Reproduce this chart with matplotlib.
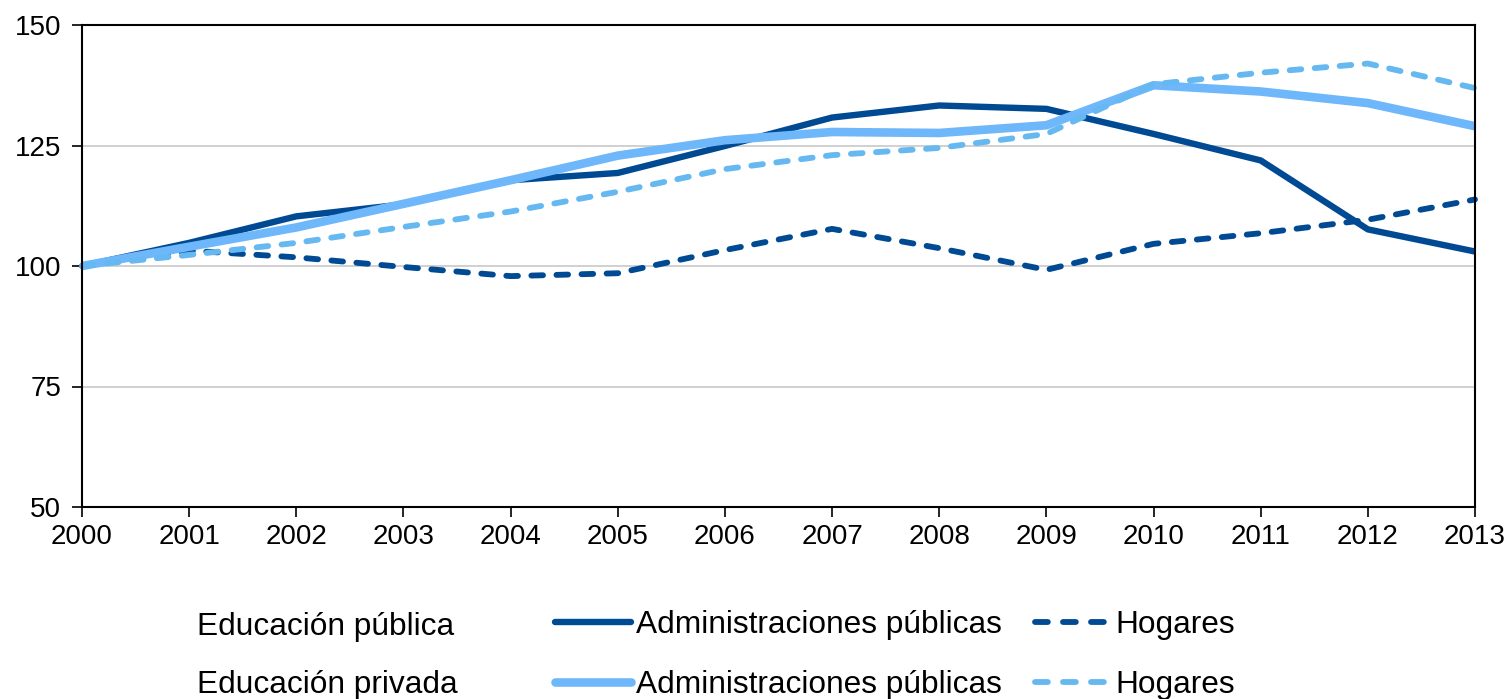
import matplotlib
matplotlib.use("Agg")
import matplotlib.pyplot as plt
from matplotlib.lines import Line2D

plt.rcParams['font.family'] = ['Liberation Sans', 'DejaVu Sans']

years = list(range(2000, 2014))
year_labels = [str(y) for y in years]

# Educación pública
pub_admin = [100, 104.8, 110.3, 112.8, 117.8, 119.3, 124.9, 130.8, 133.3, 132.6, 127.4, 121.9, 107.6, 103.0]
pub_hogares = [100, 103.2, 101.8, 99.8, 97.9, 98.5, 103.3, 107.7, 103.7, 99.2, 104.6, 106.8, 109.6, 113.8]
# Educación privada
priv_admin = [100, 104.0, 108.0, 112.9, 117.8, 122.9, 126.1, 127.8, 127.6, 129.2, 137.5, 136.2, 133.8, 129.0]
priv_hogares = [100, 102.3, 104.8, 108.1, 111.3, 115.4, 120.1, 123.0, 124.5, 127.4, 137.7, 140.1, 142.0, 136.9]

dark = '#004A94'
light = '#6DB7FA'
light_d = '#66B8F0'

fig = plt.figure(figsize=(15.06, 6.99), dpi=100)
ax = fig.add_axes([82 / 1506, 1 - 507 / 699, (1475 - 82) / 1506, (507 - 25) / 699])

ax.set_ylim(50, 150)
ax.set_xlim(2000, 2013)
ax.set_yticks([50, 75, 100, 125, 150])
ax.set_xticks(years)
ax.set_xticklabels(year_labels)
ax.yaxis.grid(True, color='#C8C8C8', linewidth=1.2)
ax.set_axisbelow(True)
for s in ax.spines.values():
    s.set_color('black')
    s.set_linewidth(1.5)
ax.tick_params(axis='both', direction='out', length=7, width=1.2, labelsize=20, colors='black')
ax.tick_params(axis='x', pad=5)
ax.tick_params(axis='y', pad=8)

l1, = ax.plot(years, pub_admin, color=dark, lw=4.6, solid_capstyle='butt')
l2, = ax.plot(years, pub_hogares, color=dark, lw=4.2, dashes=(2.0, 2.3), dash_capstyle='round')
l3, = ax.plot(years, priv_admin, color=light, lw=6.2, solid_capstyle='butt')
l4, = ax.plot(years, priv_hogares, color=light_d, lw=4.2, dashes=(2.0, 2.3), dash_capstyle='round')
for l in (l1, l2, l3, l4):
    l.set_clip_on(False)

# legend proxies (dash pattern tuned so the short handle shows 3 dashes)
h1 = Line2D([], [], color=dark, lw=4.6, solid_capstyle='round')
h3 = Line2D([], [], color=light, lw=6.2, solid_capstyle='round')
h2 = Line2D([], [], color=dark, lw=4.2, dashes=(2.2, 2.6), dash_capstyle='round')
h4 = Line2D([], [], color=light_d, lw=4.2, dashes=(2.2, 2.6), dash_capstyle='round')

leg = fig.legend(handles=[h1, h3, h2, h4],
                 labels=['Administraciones públicas', 'Administraciones públicas', 'Hogares', 'Hogares'],
                 ncol=2, frameon=False, fontsize=22.8, loc='upper left',
                 bbox_to_anchor=(555 / 1506, 1 - 610 / 699),
                 handlelength=2.4, handletextpad=0.15, columnspacing=1.05,
                 labelspacing=0.95, borderaxespad=0, borderpad=0)

fig.text(197 / 1506, 1 - 627 / 699, 'Educación pública', fontsize=22.8, va='center', ha='left')
fig.text(197 / 1506, 1 - 685 / 699, 'Educación privada', fontsize=22.8, va='center', ha='left')

fig.savefig('out.png', dpi=100)
